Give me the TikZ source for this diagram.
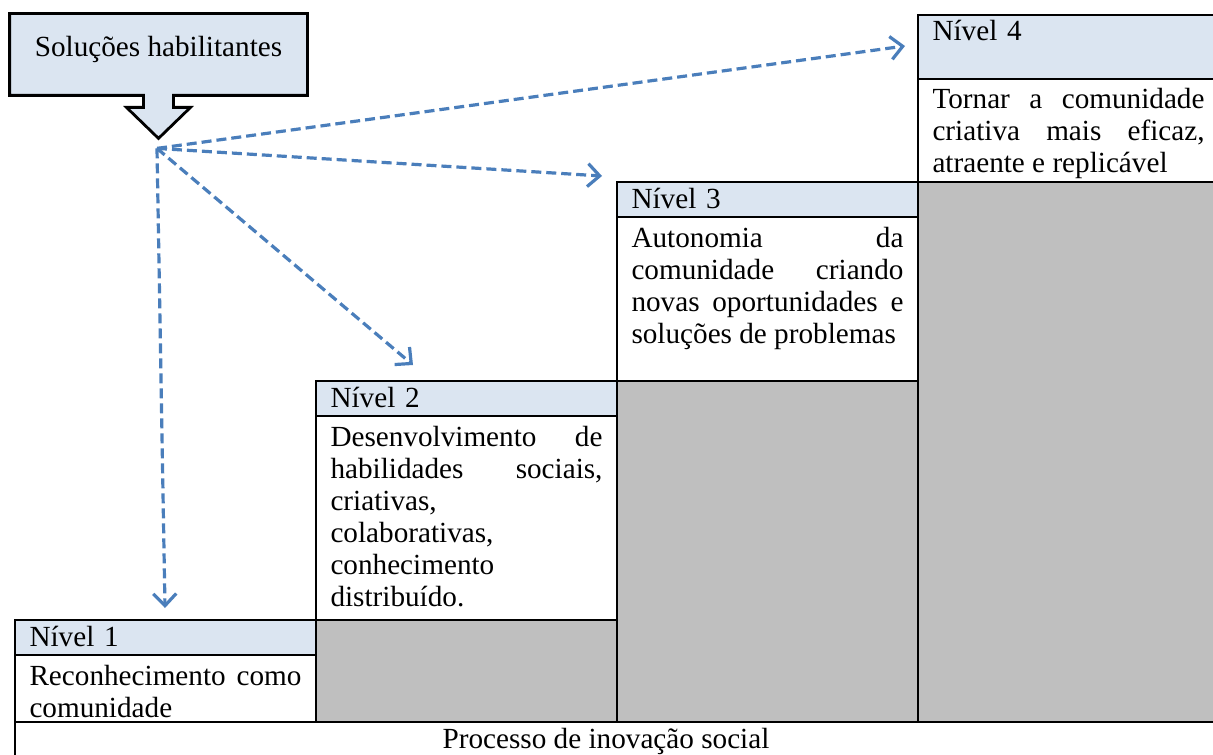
\documentclass[tikz,border=0pt]{standalone}
\usepackage{fontspec}
\setmainfont{Liberation Serif}
\usepackage{tikz}
\usetikzlibrary{arrows.meta,calc,backgrounds}
\definecolor{cabec}{HTML}{DBE5F1}
\definecolor{cinza}{HTML}{BFBFBF}
\definecolor{azulseta}{HTML}{4A7EBB}
\newcommand{\celfont}{\fontsize{14.6}{16}\selectfont}
\hyphenpenalty=10000

\begin{document}
\begin{tikzpicture}[
  x=0.5pt, y=-0.5pt,
  nivel/.style={draw, line width=1pt, fill=cabec, anchor=north west, text width=136pt, inner xsep=7.25pt, inner ysep=0pt, text height=13pt, text depth=#1, align=left, font=\celfont},
  nivel/.default=4.5pt,
  descr/.style={draw, line width=1pt, fill=white, anchor=north west, text width=136pt, inner xsep=7.25pt, inner ysep=0pt, text height=15pt, text depth=#1, align=justify, font=\celfont},
  vazio/.style={draw, line width=1pt, fill=cinza, anchor=north west, minimum width=150.5pt, minimum height=#1, inner sep=0pt},
  seta/.style={-{Straight Barb[length=6pt,width=11.5pt,line width=1.6pt]}, dash pattern=on 5pt off 2.5pt, line width=1.6pt, draw=azulseta}
]
\useasboundingbox (0,0) rectangle (1213,754);

\node[nivel=19pt] (h4) at (917,14) {Nível 4};
\node[descr=36.5pt] (b4) at (917,78) {Tornar a comunidade\linebreak criativa mais eficaz,\linebreak atraente e replicável};
\node[vazio=270pt] (g4) at (917,181) {};

\node[nivel] (h3) at (616,181) {Nível 3};
\node[descr=67pt] (b3) at (616,216) {Autonomia da\linebreak comunidade criando\linebreak novas oportunidades e\linebreak soluções de problemas};
\node[vazio=170.5pt] (g3) at (616,380) {};

\node[nivel] (h2) at (315,380) {Nível 2};
\node[descr=87pt] (b2) at (315,415) {Desenvolvimento de\linebreak habilidades sociais,\linebreak criativas,\\ colaborativas,\\ conhecimento\\ distribuído.};
\node[vazio=51pt] (g2) at (315,619) {};

\node[nivel] (h1) at (14,619) {Nível 1};
\node[descr=18.5pt] (b1) at (14,654) {Reconhecimento como\linebreak comunidade};

\node[draw, line width=1pt, anchor=north west, minimum width=602pt, minimum height=19pt, inner sep=0pt, font=\celfont] (proc) at (14,721) {Processo de inovação social\hspace*{11pt}};

\node[font=\celfont, minimum width=148.5pt, minimum height=40.5pt, inner sep=0pt, text height=10pt, text depth=7.5pt] (sol) at (158.5,54.5) {Soluções habilitantes};
\begin{scope}[on background layer]
\draw[line width=1.4pt, fill=cabec] (sol.south west) -- (sol.north west) -- (sol.north east) -- (sol.south east) -- ($(sol.south)+(15,0)$) -- ++(0,12) -- ++(17,0) -- ($(sol.south)+(0,43)$) -- ($(sol.south)+(-32,12)$) -- ++(17,0) -- ++(0,-12) -- cycle;
\end{scope}

\coordinate (src) at ($(sol.south)+(-1.5,53)$);
\coordinate (p1) at ($(h1.north west)+(151,-11)$);
\coordinate (p2) at ($(h2.north west)+(98,-15)$);
\coordinate (p3) at ($(h3.north west)+(-14,-5)$);
\coordinate (p4) at ($(h4.north west)+(-12,32)$);

\draw[seta] (src) -- (p1);
\draw[seta] (src) -- (p2);
\draw[seta] (src) -- (p3);
\draw[seta] (src) -- (p4);
\end{tikzpicture}
\end{document}
